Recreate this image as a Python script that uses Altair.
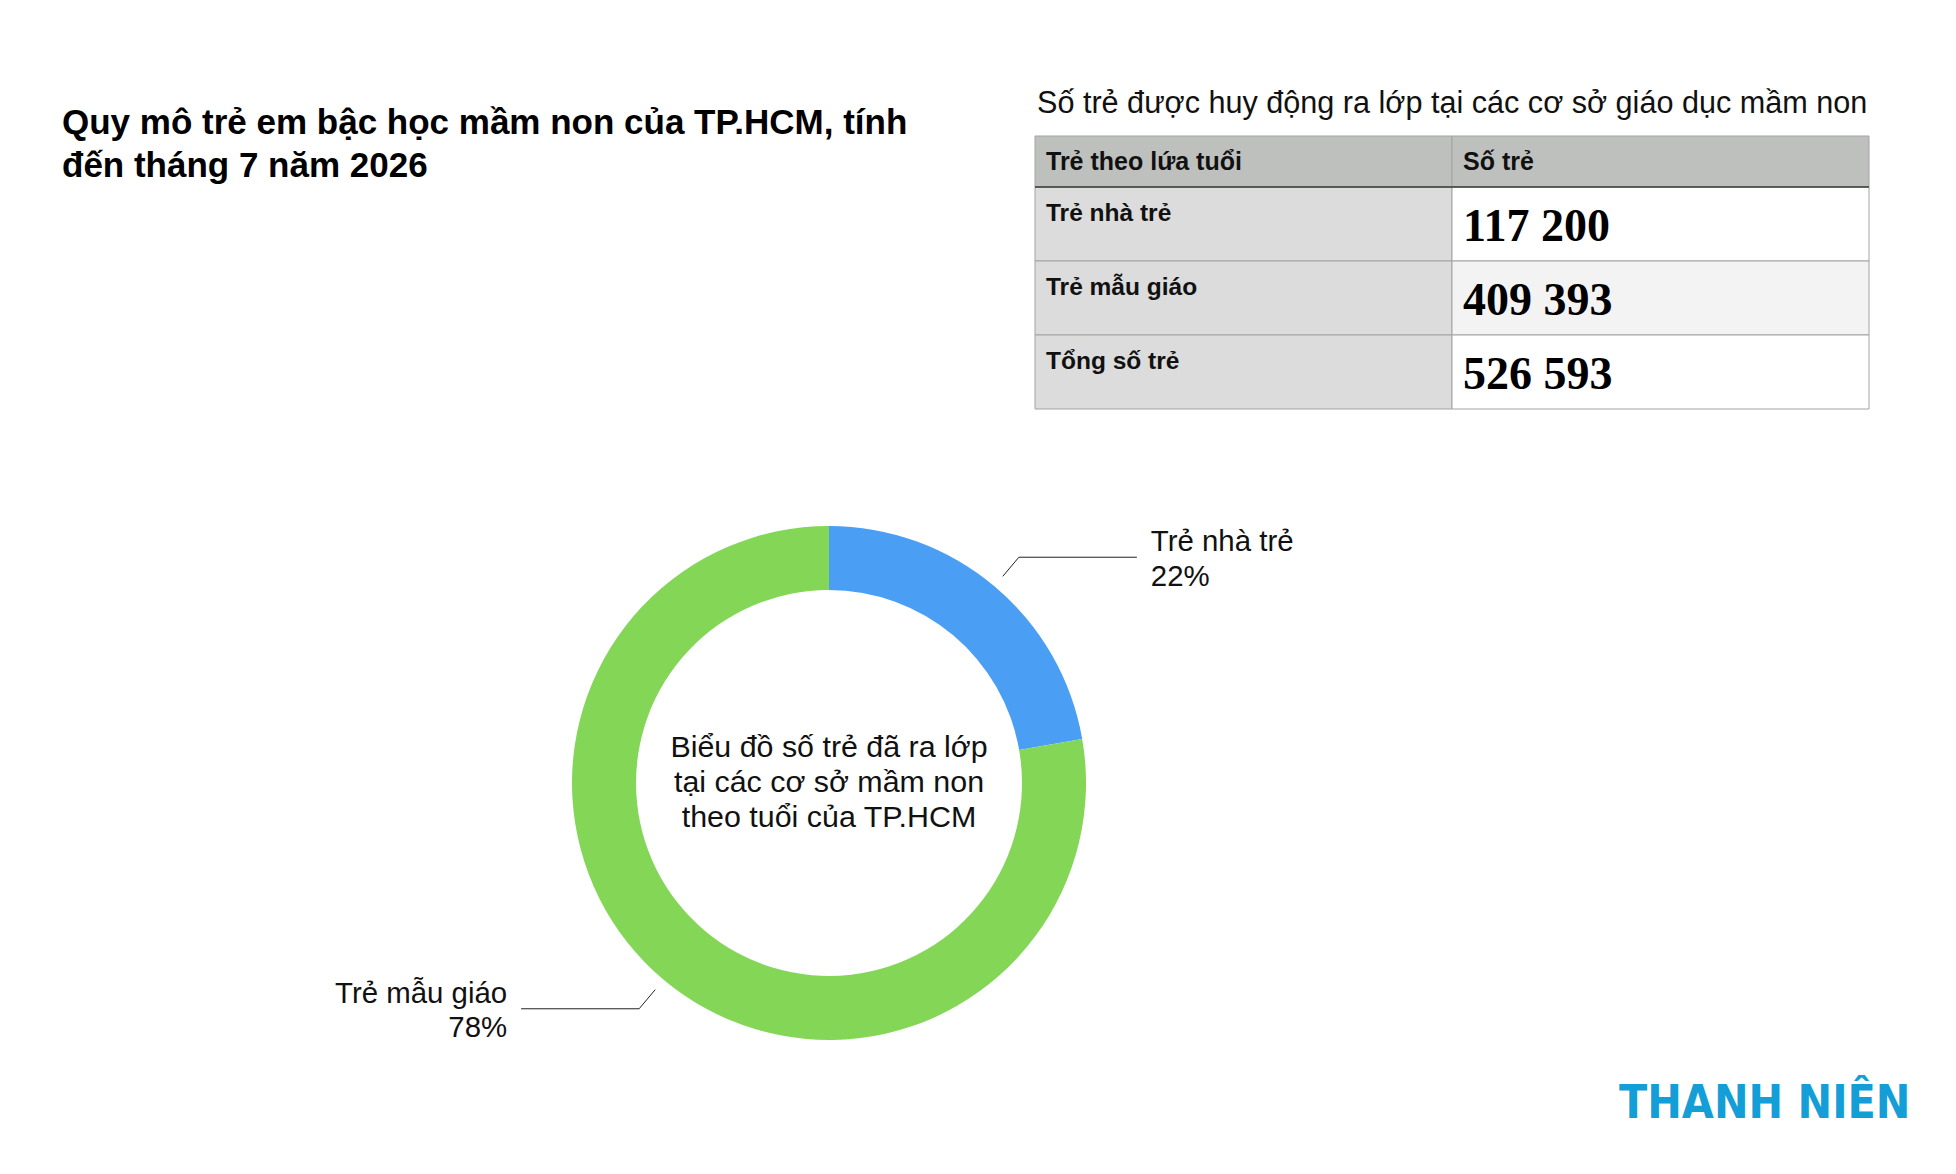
import altair as alt
import pandas as pd

# ---------------- data ----------------
TITLE_LINES = ["Quy mô trẻ em bậc học mầm non của TP.HCM, tính", "đến tháng 7 năm 2026"]
TABLE_TITLE = "Số trẻ được huy động ra lớp tại các cơ sở giáo dục mầm non"
TABLE_COLUMNS = ["Trẻ theo lứa tuổi", "Số trẻ"]
GROUPS = ["Trẻ nhà trẻ", "Trẻ mẫu giáo"]
CHILDREN = [117200, 409393]
TOTAL_LABEL = "Tổng số trẻ"
CENTER_LINES = ["Biểu đồ số trẻ đã ra lớp", "tại các cơ sở mầm non", "theo tuổi của TP.HCM"]
LOGO_TEXT = "THANH NIÊN"

# ---------------- styling / layout ----------------
COLORS = ["#4A9FF5", "#84D657"]
FONT = "Liberation Sans"
CX, CY = 821, 775
R_OUT, R_IN = 257, 193
R_LEAD0, R_LEAD1, LEAD_LEN, LABEL_GAP = 270, 295, 118, 14
TX0, TX1 = 1027, 1861
HEAD_Y0, HEAD_Y1, BODY_Y1 = 128, 179, 401


def fmt(v):
    return f"{v:,}".replace(",", " ")


donut_df = pd.DataFrame({"group": GROUPS, "value": CHILDREN, "order": list(range(len(GROUPS)))})

rows = GROUPS + [TOTAL_LABEL]
counts = CHILDREN + [sum(CHILDREN)]
cells = []
for ri, (r, c) in enumerate(zip(rows, counts)):
    cells.append({"row": r, "col": TABLE_COLUMNS[0], "ci": 0, "ri": ri, "text": r})
    cells.append({"row": r, "col": TABLE_COLUMNS[1], "ci": 1, "ri": ri, "text": fmt(c)})
cells_df = pd.DataFrame(cells)
head_df = pd.DataFrame({"col": TABLE_COLUMNS})
one = pd.DataFrame({"k": [0]})

BW = (TX1 - TX0) / len(TABLE_COLUMNS)
BH = (BODY_Y1 - HEAD_Y1) / len(rows)


def xband():
    return alt.X("col:N", scale=alt.Scale(domain=TABLE_COLUMNS, range=[TX0, TX1],
                                          paddingInner=0, paddingOuter=0), axis=None)


def yband():
    return alt.Y("row:N", scale=alt.Scale(domain=rows, range=[HEAD_Y1, BODY_Y1],
                                          paddingInner=0, paddingOuter=0), axis=None)


def xstart():
    # point scale whose positions are the left edges of the columns
    return alt.X("col:N", scale=alt.Scale(type="point", domain=TABLE_COLUMNS,
                                          range=[TX0, TX1 - BW], padding=0), axis=None)


def yrow(frac):
    # point scale at a fraction of each row's height
    return alt.Y("row:N", scale=alt.Scale(type="point", domain=rows,
                                          range=[HEAD_Y1 + frac * BH, BODY_Y1 - (1 - frac) * BH],
                                          padding=0), axis=None)


# ---------------- titles ----------------
title = alt.Chart(pd.DataFrame({"t": ["\n".join(TITLE_LINES)]})).mark_text(
    align="left", baseline="alphabetic", font=FONT, fontSize=35, fontWeight="bold",
    lineBreak="\n", lineHeight=43, color="#000000"
).encode(x=alt.value(54), y=alt.value(126), text="t:N")

table_title = alt.Chart(pd.DataFrame({"t": [TABLE_TITLE]})).mark_text(
    align="left", baseline="alphabetic", font=FONT, fontSize=30.6, color="#111111"
).encode(x=alt.value(1029), y=alt.value(105), text="t:N")

# ---------------- table ----------------
head_rect = alt.Chart(head_df).mark_rect(fill="#BEC0BE", stroke="#A3A3A3", strokeWidth=1).encode(
    x=xband(), y=alt.value(HEAD_Y0), y2=alt.value(HEAD_Y1)
)
body_rect = alt.Chart(cells_df).transform_calculate(
    shade="datum.ci == 0 ? 'a' : (datum.ri % 2 == 1 ? 'b' : 'c')"
).mark_rect(stroke="#A3A3A3", strokeWidth=1).encode(
    x=xband(), y=yband(),
    fill=alt.Fill("shade:N", scale=alt.Scale(domain=["a", "b", "c"],
                                             range=["#DCDCDC", "#F3F3F3", "#FFFFFF"]), legend=None),
)
head_line = alt.Chart(one).mark_rule(color="#3A3A3A", strokeWidth=1.5).encode(
    x=alt.value(TX0), x2=alt.value(TX1), y=alt.value(HEAD_Y1)
)
head_text = alt.Chart(head_df).mark_text(
    align="left", baseline="alphabetic", dx=11, font=FONT, fontSize=25, fontWeight="bold", color="#111111"
).encode(x=xstart(), y=alt.value(162), text="col:N")
label_text = alt.Chart(cells_df).transform_filter("datum.ci == 0").mark_text(
    align="left", baseline="alphabetic", dx=11, dy=34, font=FONT, fontSize=24.5, fontWeight="bold",
    color="#111111"
).encode(x=xstart(), y=yrow(0), text="text:N")
value_text = alt.Chart(cells_df).transform_filter("datum.ci == 1").mark_text(
    align="left", baseline="alphabetic", dx=11, dy=17, font="Liberation Serif", fontSize=46,
    fontWeight="bold", color="#000000"
).encode(x=xstart(), y=yrow(0.5), text="text:N")

# ---------------- donut ----------------
donut = alt.Chart(donut_df).mark_arc(outerRadius=R_OUT, innerRadius=R_IN).encode(
    theta=alt.Theta("value:Q", stack=True),
    color=alt.Color("group:N", scale=alt.Scale(domain=GROUPS, range=COLORS), legend=None),
    order=alt.Order("order:Q"),
    x=alt.value(CX), y=alt.value(CY),
)

center = alt.Chart(pd.DataFrame({"t": ["\n".join(CENTER_LINES)]})).mark_text(
    align="center", baseline="middle", font=FONT, fontSize=30.4, lineBreak="\n", lineHeight=35,
    color="#111111"
).encode(x=alt.value(CX), y=alt.value(CY - 35), text="t:N")

lead = alt.Chart(donut_df).transform_joinaggregate(total="sum(value)").transform_window(
    cum="sum(value)", sort=[alt.SortField("order")]
).transform_calculate(
    a="2*PI*(datum.cum - datum.value/2)/datum.total"
).transform_calculate(
    side="sin(datum.a) >= 0 ? 1 : -1",
    x0=f"{CX} + {R_LEAD0}*sin(datum.a)",
    y0=f"{CY} - {R_LEAD0}*cos(datum.a)",
    x1=f"{CX} + {R_LEAD1}*sin(datum.a)",
    y1=f"{CY} - {R_LEAD1}*cos(datum.a)",
).transform_calculate(
    x2=f"datum.x1 + datum.side*{LEAD_LEN}",
    pct="format(datum.value/datum.total, '.0%')",
).transform_calculate(
    xt=f"datum.x2 + datum.side*{LABEL_GAP}",
    yt="datum.y1 - 6",
    label="datum.group + '\\n' + datum.pct",
)

diag = lead.mark_rule(color="#222222", strokeWidth=1).encode(
    x=alt.X("x0:Q", scale=None), y=alt.Y("y0:Q", scale=None),
    x2=alt.X2("x1:Q"), y2=alt.Y2("y1:Q"),
)
horiz = lead.mark_rule(color="#222222", strokeWidth=1).encode(
    x=alt.X("x1:Q", scale=None), y=alt.Y("y1:Q", scale=None),
    x2=alt.X2("x2:Q"), y2=alt.Y2("y1:Q"),
)
lab_right = lead.transform_filter("datum.side > 0").mark_text(
    align="left", baseline="alphabetic", font=FONT, fontSize=29.4, lineBreak="\n", lineHeight=35,
    color="#111111"
).encode(x=alt.X("xt:Q", scale=None), y=alt.Y("yt:Q", scale=None), text="label:N")
lab_left = lead.transform_filter("datum.side < 0").mark_text(
    align="right", baseline="alphabetic", font=FONT, fontSize=29.4, lineBreak="\n", lineHeight=34,
    color="#111111"
).encode(x=alt.X("xt:Q", scale=None), y=alt.Y("yt:Q", scale=None), text="label:N")

# ---------------- logo ----------------
logo = alt.Chart(pd.DataFrame({"t": [LOGO_TEXT]})).mark_text(
    align="left", baseline="alphabetic", font="DejaVu Sans Condensed, Liberation Sans", fontSize=46,
    fontWeight="bold", color="#139ED7"
).encode(x=alt.value(1611), y=alt.value(1110), text="t:N")

chart = alt.layer(
    title, table_title, head_rect, body_rect, head_line, head_text, label_text, value_text,
    donut, center, diag, horiz, lab_right, lab_left, logo
).resolve_scale(
    x="independent", y="independent", color="independent", fill="independent"
).properties(
    width=1940, height=1150, padding=0, autosize="none", background="#FFFFFF"
).configure_view(strokeWidth=0)

chart.save("out.html", embed_options={"renderer": "svg", "actions": False})
